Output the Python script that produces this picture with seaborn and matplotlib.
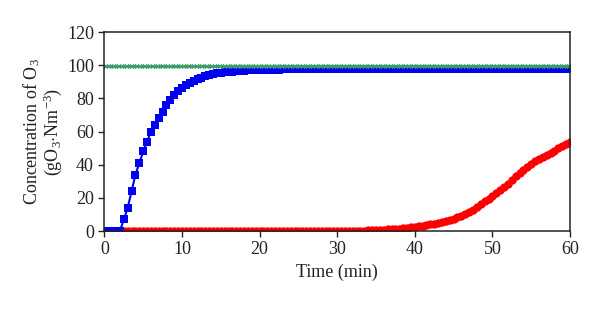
import numpy as np
import pandas as pd
import matplotlib
matplotlib.use('Agg')
import matplotlib.pyplot as plt
import seaborn as sns

# ── data ───────────────────────────────────────────────────────────
# blue outlet curve, every 0.5 min from 0 to 60
blue_t = np.arange(0, 60.01, 0.5)
blue_y = [0, 0, 0, 0, 0, 7, 14, 24, 34, 41,
          48, 54, 60, 64, 68, 72, 76, 79, 82, 84.5,
          86.5, 88, 89.5, 90.5, 91.5, 92.5, 93.2, 93.8, 94.4, 95,
          95.4, 95.8, 96, 96.2, 96.4, 96.6, 96.8, 96.9, 97, 97.1,
          97.2, 97.3, 97.3, 97.4, 97.4, 97.4, 97.5, 97.5, 97.5, 97.5] + [97.5] * 71

# red outlet curve, every 0.5 min from 0 to 60
red_t = np.arange(0, 60.01, 0.5)
red_y = [0] * 67 + [0.3, 0.4, 0.5, 0.6, 0.75, 0.9, 1.05, 1.2, 1.35, 1.5,
                    1.75, 2.0, 2.3, 2.6, 2.95, 3.3, 3.65, 4.0, 4.5, 5.0,
                    5.6, 6.2, 6.8, 7.5, 8.3, 9.2, 10.3, 11.5, 13.0, 14.5,
                    16.2, 18.0, 19.5, 21.0, 22.7, 24.5, 26.5, 28.5, 30.8, 33.0,
                    35.0, 37.0, 38.8, 40.5, 42.0, 43.5, 44.8, 46.0, 47.3, 48.5,
                    49.8, 51.0, 52.5, 54.0]

# inlet concentration, every 20 s
green_t = np.linspace(0, 60, 181)
green_y = [99.5] * 181

x_ticks = [0, 10, 20, 30, 40, 50, 60]
y_ticks = [0, 20, 40, 60, 80, 100, 120]

sns.set_style('ticks')
plt.rcParams['font.family'] = ['Liberation Serif', 'DejaVu Serif']
plt.rcParams['mathtext.fontset'] = 'custom'
plt.rcParams['mathtext.rm'] = 'Liberation Serif'
plt.rcParams['mathtext.it'] = 'Liberation Serif:italic'

fig = plt.figure(figsize=(6, 3.11), dpi=100)
ax = fig.add_axes([0.174, 0.257, 0.776, 0.64])

sns.lineplot(x=red_t, y=red_y, color='#ff0000', marker='o', markersize=6,
             markeredgewidth=0, linewidth=2, ax=ax)
sns.lineplot(x=blue_t, y=blue_y, color='#0000f0', marker='s', markersize=5.2,
             markeredgewidth=0, linewidth=1.5, ax=ax)
sns.lineplot(x=green_t, y=green_y, color='#3c9c6c', marker='D', markersize=2.6,
             markeredgewidth=0, linewidth=1, ax=ax)

ax.set_xlim(0, 60)
ax.set_ylim(0, 120)
ax.set_xticks(x_ticks)
ax.set_yticks(y_ticks)
ax.tick_params(labelsize=13, length=4, width=1, colors='#222222', labelcolor='#222222')
for s in ax.spines.values():
    s.set_linewidth(1.1)
    s.set_color('#222222')
ax.set_xlabel('Time (min)', fontsize=13, color='#222222', labelpad=4)
ax.set_ylabel('Concentration of O$_3$\n(gO$_3$$\\cdot$Nm$^{-3}$)', fontsize=13,
              color='#222222', linespacing=1.0, labelpad=2)

plt.savefig('out.png', dpi=100)
plt.close()
